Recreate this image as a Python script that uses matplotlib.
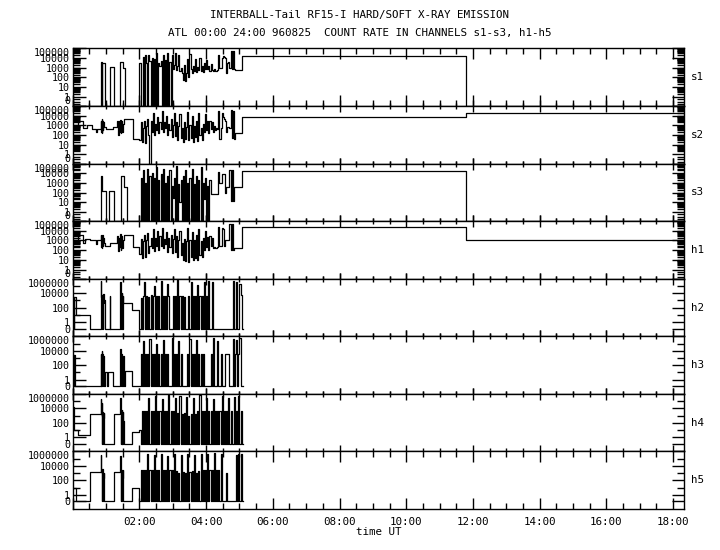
import numpy as np
import matplotlib
matplotlib.use("Agg")
import matplotlib.pyplot as plt
from matplotlib.ticker import MultipleLocator, FixedLocator, FuncFormatter

plt.rcParams['font.family'] = ['DejaVu Sans Mono']
plt.rcParams['font.size'] = 7.8

# ---- count rates (counts), time in hours UT ----
# sparse part before 02:00 : breakpoints (t, value), step-post
s1_t0 = [0.0, 0.85, 0.88, 0.89, 0.97, 1.11, 1.24, 1.43, 1.52, 1.57]
s1_v0 = [0, 4000, 0, 3000, 0, 1300, 0, 4000, 1000, 0]
s2_t0 = [0.0, 0.16, 0.31, 0.43, 0.58, 0.70, 0.74, 0.85, 0.86, 0.87, 0.88, 0.89, 0.90, 0.92,
         0.94, 1.0, 1.2, 1.34, 1.36, 1.38, 1.40, 1.42, 1.44, 1.46, 1.48, 1.50, 1.55, 1.80]
s2_v0 = [1200, 3000, 500, 1000, 400, 200, 400, 3000, 200, 5000, 150, 3000, 300, 2000,
         600, 400, 600, 3000, 100, 2500, 200, 4000, 150, 3000, 200, 1500, 5000, 40]
s3_t0 = [0.0, 0.85, 0.89, 1.0, 1.1, 1.23, 1.45, 1.55, 1.62]
s3_v0 = [0, 5000, 150, 0, 150, 0, 5000, 400, 0]
h1_t0 = [0.0, 0.17, 0.32, 0.37, 0.52, 0.70, 0.74, 0.85, 0.86, 0.87, 0.88, 0.89, 0.90, 0.92,
         0.94, 0.98, 1.13, 1.34, 1.36, 1.38, 1.40, 1.42, 1.44, 1.46, 1.48, 1.50, 1.55, 1.81]
h1_v0 = [1200, 3500, 600, 1500, 1000, 400, 1000, 4000, 200, 3000, 150, 4000, 300, 2000,
         500, 300, 500, 3000, 80, 2000, 200, 5000, 100, 3000, 150, 1000, 4000, 200]
h2_t0 = [0.0, 0.03, 0.05, 0.10, 0.53, 0.85, 0.86, 0.87, 0.88, 0.89, 0.90, 0.91, 0.92, 0.93, 0.94,
         0.97, 1.11, 1.12, 1.43, 1.44, 1.45, 1.46, 1.47, 1.48, 1.49, 1.50, 1.51, 1.55, 1.78]
h2_v0 = [3000, 0, 3000, 8, 0, 500000, 3000, 0, 5000, 300, 2000, 0, 8000, 500, 1000,
         0, 4000, 0, 300000, 1000, 0, 3000, 200, 10000, 0, 4000, 500, 400, 50]
h3_t0 = [0.0, 0.03, 0.05, 0.08, 0.85, 0.86, 0.87, 0.88, 0.89, 0.90, 0.92, 0.94,
         0.98, 1.03, 1.06, 1.22, 1.43, 1.45, 1.46, 1.48, 1.50, 1.53, 1.58, 1.78]
h3_v0 = [2500, 0, 2500, 0, 3000, 0, 8000, 0, 3000, 0, 2000, 0,
         10, 0, 10, 0, 20000, 0, 3000, 0, 2000, 0, 14, 0]
h4_t0 = [0.0, 0.04, 0.17, 0.53, 0.85, 0.86, 0.87, 0.88, 0.89, 0.90, 0.91, 0.92, 0.93,
         0.95, 1.23, 1.43, 1.44, 1.45, 1.46, 1.47, 1.48, 1.49, 1.50, 1.52, 1.55, 1.78]
h4_v0 = [15000, 10, 2, 1500, 200000, 1500, 0, 50000, 1000, 0, 3000, 500, 2000,
         0, 1500, 300000, 2000, 0, 1000, 0, 5000, 0, 3000, 200, 0, 5]
h5_t0 = [0.0, 0.10, 0.53, 0.85, 0.86, 0.87, 0.88, 0.89, 0.90, 0.91, 0.92, 0.93,
         0.95, 1.23, 1.43, 1.44, 1.45, 1.46, 1.47, 1.48, 1.49, 1.50, 1.52, 1.55, 1.78]
h5_v0 = [8, 0, 1500, 300000, 1500, 0, 1000, 4000, 0, 2000, 200, 1000,
         0, 1500, 200000, 1000, 0, 3000, 0, 1500, 200, 3000, 0, 0, 8]

# dense part 02:00 - 05:06, one sample every 2 min
s1_d = [3000, 0, 0, 12000, 0, 20000, 3000, 0, 20000, 5000,
        0, 10000, 0, 8000, 0, 30000, 0, 3000, 1500, 5000,
        0, 20000, 0, 6000, 0, 30000, 0, 4000, 0, 20000,
        800, 2000, 30000, 600, 1500, 20000, 500, 1000, 300, 60,
        2000, 40, 300, 8000, 100, 25000, 800, 300, 1500, 500,
        8000, 400, 1200, 600, 10000, 500, 1500, 400, 3000, 800,
        7000, 800, 1500, 500, 2500, 600, 500, 800, 500, 500,
        600, 20000, 1000, 1000, 10000, 15000, 12000, 10000, 300, 3000,
        4000, 1000, 50000, 800, 50000, 700, 600, 600, 600, 600,
        600, 600, 17000]
s2_d = [30, 2000, 20, 500, 3000, 15, 800, 5000, 100, 0,
        3000, 200, 20000, 100, 1500, 300, 8000, 150, 2000, 400,
        30000, 200, 2000, 500, 10000, 100, 1500, 300, 5000, 60,
        1000, 20000, 80, 2000, 30, 800, 15000, 50, 500, 20,
        2000, 40, 600, 25000, 30, 1000, 50, 10000, 20, 800,
        60, 3000, 25, 20000, 100, 500, 30, 1500, 200, 15000,
        300, 3000, 150, 2500, 400, 2000, 200, 800, 300, 500,
        400, 30000, 40, 500, 20000, 8000, 5000, 3000, 200, 600,
        700, 500, 40000, 50, 30000, 40, 150, 150, 150, 150,
        150, 150, 6600]
s3_d = [0, 3000, 0, 20000, 0, 1000, 0, 30000, 0, 5000,
        0, 10000, 0, 3000, 0, 40000, 0, 2000, 0, 8000,
        0, 30000, 0, 1000, 0, 5000, 0, 20000, 0, 500,
        30, 3000, 0, 50000, 0, 800, 10, 2000, 0, 5000,
        0, 20000, 0, 1000, 0, 3000, 0, 30000, 0, 800,
        0, 5000, 0, 2000, 0, 40000, 0, 1000, 20, 3000,
        0, 500, 0, 2000, 80, 80, 80, 80, 80, 80,
        80, 15000, 1000, 1000, 8000, 8000, 8000, 100, 400, 400,
        400, 20000, 15, 20000, 15, 400, 400, 400, 400, 400,
        400, 400, 16000]
h1_d = [40, 1500, 15, 800, 4000, 20, 1000, 6000, 50, 300,
        2000, 150, 15000, 80, 2000, 250, 10000, 100, 3000, 300,
        20000, 150, 1500, 400, 8000, 60, 2000, 200, 4000, 50,
        1500, 15000, 60, 3000, 20, 1000, 10000, 30, 600, 10,
        1500, 8, 800, 20000, 6, 1200, 20, 8000, 10, 1000,
        15, 4000, 10, 15000, 30, 800, 20, 2000, 100, 10000,
        200, 2500, 100, 3000, 300, 2000, 150, 200, 150, 150,
        200, 25000, 300, 300, 20000, 15000, 300, 1000, 1000, 1000,
        1000, 50000, 100, 50000, 100, 150, 150, 150, 150, 150,
        150, 150, 25000]
h2_d = [0, 2000, 0, 4000, 300000, 0, 4000, 0, 3000, 0,
        5000, 0, 4000, 100000, 0, 4000, 0, 4000, 0, 500000,
        0, 4000, 0, 4000, 0, 200000, 4000, 0, 0, 0,
        4000, 0, 4000, 0, 600000, 0, 4000, 0, 4000, 0,
        3000, 0, 0, 0, 4000, 0, 400000, 0, 4000, 0,
        4000, 0, 150000, 0, 4000, 0, 4000, 0, 300000, 0,
        4000, 0, 500000, 0, 0, 300000, 0, 0, 0, 0,
        0, 0, 0, 0, 0, 0, 0, 0, 0, 0,
        0, 0, 0, 0, 500000, 0, 0, 300000, 0, 0,
        200000, 5000, 0]
h3_d = [0, 3000, 0, 200000, 0, 3000, 0, 3000, 0, 400000,
        0, 3000, 0, 3000, 0, 100000, 0, 3000, 0, 3000,
        0, 300000, 0, 3000, 0, 3000, 0, 0, 0, 500000,
        0, 3000, 0, 3000, 0, 200000, 0, 3000, 0, 0,
        0, 0, 0, 3000, 0, 400000, 0, 3000, 0, 3000,
        0, 300000, 0, 3000, 0, 3000, 0, 3000, 0, 0,
        0, 0, 0, 0, 3000, 0, 500000, 0, 0, 0,
        200000, 0, 0, 3000, 0, 0, 0, 3000, 3000, 3000,
        3000, 0, 0, 0, 400000, 0, 3000, 300000, 0, 3000,
        500000, 0, 0]
h4_d = [10, 0, 4000, 0, 4000, 0, 4000, 0, 300000, 0,
        4000, 0, 4000, 0, 500000, 0, 4000, 0, 4000, 0,
        200000, 0, 4000, 0, 4000, 0, 600000, 0, 4000, 0,
        4000, 0, 300000, 0, 2000, 0, 500000, 0, 1500, 0,
        2000, 0, 400000, 0, 1000, 0, 1500, 0, 300000, 0,
        1500, 0, 4000, 0, 600000, 0, 4000, 0, 4000, 0,
        300000, 0, 4000, 0, 4000, 0, 200000, 0, 4000, 0,
        4000, 0, 4000, 0, 500000, 0, 4000, 0, 4000, 0,
        300000, 0, 4000, 0, 0, 400000, 0, 4000, 0, 500000,
        0, 4000, 0]
h5_d = [0, 3000, 0, 3000, 0, 3000, 0, 400000, 0, 3000,
        0, 3000, 0, 300000, 0, 3000, 0, 3000, 0, 500000,
        0, 3000, 0, 3000, 0, 200000, 0, 3000, 0, 3000,
        0, 400000, 0, 2000, 0, 1000, 0, 300000, 0, 1500,
        0, 1000, 0, 500000, 0, 1500, 0, 2000, 0, 300000,
        0, 1000, 0, 2000, 0, 400000, 0, 3000, 0, 3000,
        0, 500000, 0, 3000, 0, 3000, 0, 600000, 0, 3000,
        0, 3000, 0, 500000, 0, 0, 0, 0, 1000, 0,
        0, 0, 0, 0, 0, 0, 0, 300000, 0, 400000,
        0, 500000, 0]

# after 05:06 : breakpoints
s1_t1, s1_v1 = [5.1, 11.8, 18.4], [17000, 0, 0]
s2_t1, s2_v1 = [5.1, 11.8, 18.4], [6600, 17000, 17000]
s3_t1, s3_v1 = [5.1, 11.8, 18.4], [16000, 0, 0]
h1_t1, h1_v1 = [5.1, 11.8, 18.4], [25000, 1200, 1200]
hx_t1, hx_v1 = [5.1, 5.12], [0, 0]

t_dense = 2.0 + (2 / 60) * np.arange(len(s1_d))

channels = [
    ("s1", s1_t0, s1_v0, s1_d, s1_t1, s1_v1, "s"),
    ("s2", s2_t0, s2_v0, s2_d, s2_t1, s2_v1, "s"),
    ("s3", s3_t0, s3_v0, s3_d, s3_t1, s3_v1, "s"),
    ("h1", h1_t0, h1_v0, h1_d, h1_t1, h1_v1, "s"),
    ("h2", h2_t0, h2_v0, h2_d, hx_t1, hx_v1, "h"),
    ("h3", h3_t0, h3_v0, h3_d, hx_t1, hx_v1, "h"),
    ("h4", h4_t0, h4_v0, h4_d, hx_t1, hx_v1, "h"),
    ("h5", h5_t0, h5_v0, h5_d, hx_t1, hx_v1, "h"),
]

ZERO = {"s": -0.95, "h": -0.93}
YLIM = {"s": (-0.95, 5.0), "h": (-1.98, 6.0)}


def lev(v, zero):
    v = np.asarray(v, float)
    return np.where(v >= 1, np.log10(np.maximum(v, 1)), zero)


fig, axes = plt.subplots(8, 1, sharex=True, figsize=(7.2, 5.5), dpi=100,
                         gridspec_kw=dict(hspace=0))
fig.subplots_adjust(left=0.101, right=0.95, top=0.912, bottom=0.0745)

for ax, (name, t0, v0, d, t1, v1, kind) in zip(axes, channels):
    t = np.concatenate([t0, t_dense, t1])
    v = np.concatenate([v0, d, v1])
    ax.step(t, lev(v, ZERO[kind]), where="post", color="k", lw=0.9)
    ax.set_ylim(*YLIM[kind])
    z = ZERO[kind]
    if kind == "s":
        major = [z, 0, 1, 2, 3, 4, 5]
        labels = ["0", "1", "10", "100", "1000", "10000", "100000"]
        minor = [np.log10(k * 10.0 ** p) for p in range(5) for k in range(2, 10)]
        minor += [z + 0.2, z + 0.45, z + 0.7]
    else:
        major = [z, 0, 2, 4, 6]
        labels = ["0", "1", "100", "10000", "1000000"]
        minor = [1, 3, 5]
    ax.yaxis.set_major_locator(FixedLocator(major))
    ax.set_yticklabels(labels, fontsize=7.2)
    tl = ax.get_yticklabels()
    if kind == "s":
        tl[0].set_va("bottom")
    tl[-1].set_va("top")
    ax.yaxis.set_minor_locator(FixedLocator(minor))
    ax.tick_params(axis="y", which="major", direction="in", length=9, width=1,
                   left=True, right=True, pad=2)
    ax.tick_params(axis="y", which="minor", direction="in", length=5, width=1,
                   left=True, right=True)
    ax.tick_params(axis="x", which="major", direction="inout", length=8, width=1,
                   top=True, bottom=True)
    ax.tick_params(axis="x", which="minor", direction="inout", length=4, width=1,
                   top=True, bottom=True)
    for sp in ax.spines.values():
        sp.set_linewidth(1)
    ax.text(1.012, 0.5, name, transform=ax.transAxes, va="center", ha="left")

axes[0].set_xlim(0, 18.33)
axes[0].xaxis.set_major_locator(MultipleLocator(2))
axes[0].xaxis.set_minor_locator(MultipleLocator(0.5))
axes[-1].xaxis.set_major_formatter(
    FuncFormatter(lambda x, p: "" if x < 1 else "%02d:00" % round(x)))
axes[0].tick_params(axis="x", which="both", direction="in")
axes[-1].tick_params(axis="x", which="both", direction="in", pad=6)
axes[-1].set_xlabel("time UT", labelpad=0)

fig.text(0.5, 0.972, "INTERBALL-Tail RF15-I HARD/SOFT X-RAY EMISSION", ha="center", va="center")
fig.text(0.5, 0.94, "ATL 00:00 24:00 960825  COUNT RATE IN CHANNELS s1-s3, h1-h5",
         ha="center", va="center")

fig.savefig("out.png", dpi=100)
